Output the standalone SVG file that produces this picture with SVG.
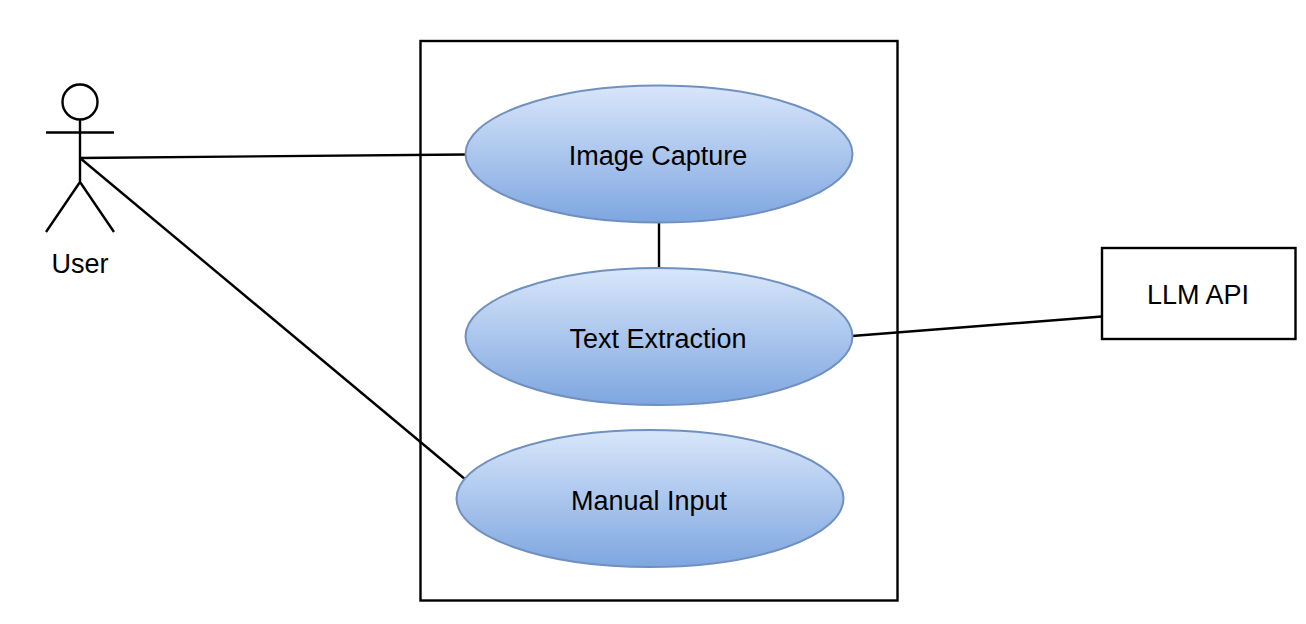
<svg xmlns="http://www.w3.org/2000/svg" width="1306" height="624" viewBox="0 0 1306 624">
<style>
text{font-family:"Liberation Sans",Arial,sans-serif;font-size:27px;fill:#000;text-anchor:middle}
.l{fill:none;stroke:#000;stroke-width:2.4}
.e{fill:url(#g);stroke:#7090bf;stroke-width:2}
</style>
<defs><linearGradient id="g" x1="0" y1="0" x2="0" y2="1"><stop offset="0" stop-color="#d8e6fa"/><stop offset="1" stop-color="#7ea6e0"/></linearGradient></defs>
<rect width="1306" height="624" fill="#fff"/>
<g id="system"><rect class="l" x="420.500" y="41" width="477" height="559.500"/></g>
<g id="connectors">
<path class="l" d="M80 158L466 154.500"/>
<path class="l" d="M80 158L466 480"/>
<path class="l" d="M659 222V268"/>
<path class="l" d="M852 336L1102 316.500"/>
</g>
<g id="user"><circle class="l" cx="80" cy="102" r="17.500"/><path class="l" d="M80 120V182M46 132.500H114M80 182L46 232M80 182L114 232"/><text x="80" y="273">User</text></g>
<g id="image-capture"><ellipse class="e" cx="659" cy="154" rx="193.500" ry="68.500"/><text x="658" y="165">Image Capture</text></g>
<g id="text-extraction"><ellipse class="e" cx="659" cy="336.500" rx="193.500" ry="68.500"/><text x="658" y="348">Text Extraction</text></g>
<g id="manual-input"><ellipse class="e" cx="650" cy="498.500" rx="193.500" ry="68.500"/><text x="649" y="510">Manual Input</text></g>
<g id="llm-api"><rect class="l" x="1102" y="248" width="193.500" height="91"/><text x="1198" y="304">LLM API</text></g>
</svg>
